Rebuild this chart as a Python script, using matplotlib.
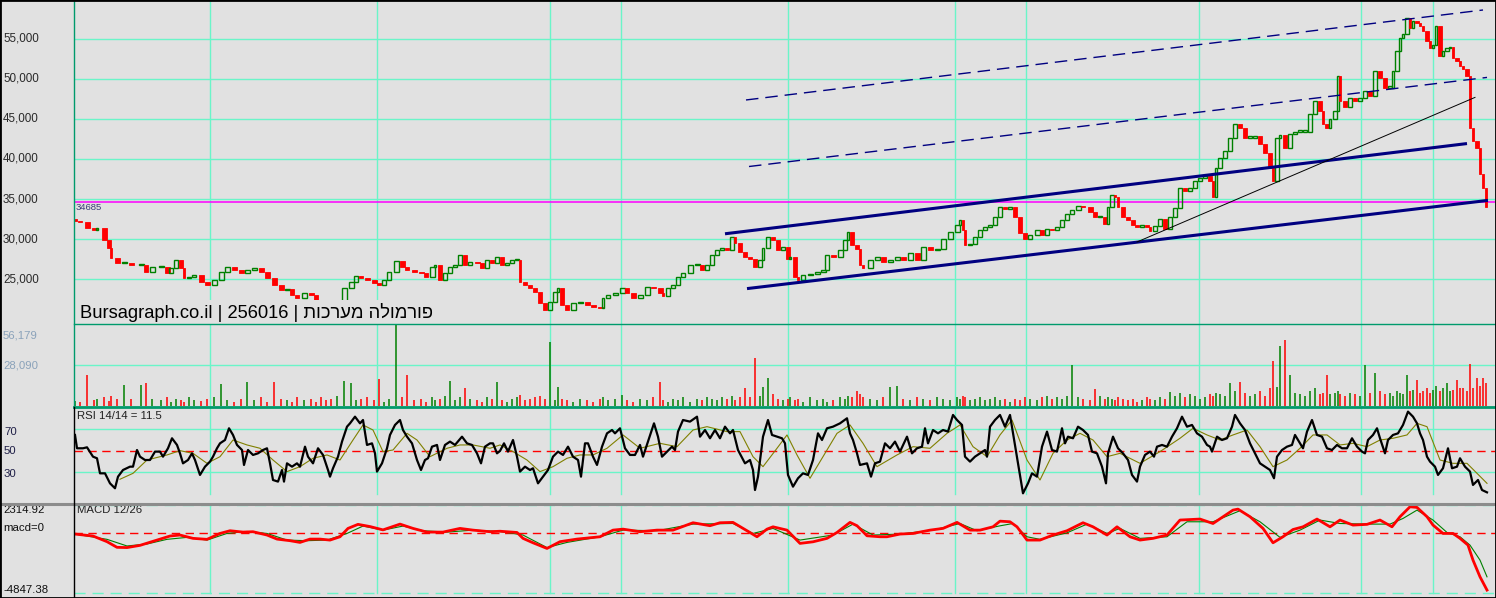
import numpy as np
import matplotlib
matplotlib.use("Agg")
import matplotlib.pyplot as plt
from matplotlib.patches import Rectangle
from matplotlib.lines import Line2D

# ---------------- data (sessions are numbered along the time axis) ----------------
session = [75, 80, 87, 94, 97, 104, 109, 111, 117, 124, 131, 141, 146, 152, 161, 167, 171, 176, 181, 184,
           189, 194, 201, 207, 214, 221, 227, 234, 241, 247, 254, 261, 267, 274, 281, 287, 292, 297, 304, 311,
           316, 321, 326, 331, 337, 344, 351, 356, 361, 367, 374, 379, 384, 389, 396, 402, 407, 414, 421, 426,
           432, 435, 440, 445, 450, 455, 460, 465, 470, 477, 482, 487, 492, 497, 502, 507, 512, 517, 520, 525,
           530, 535, 540, 545, 550, 555, 558, 562, 567, 573, 580, 587, 593, 600, 603, 608, 615, 622, 627, 633,
           640, 647, 653, 660, 663, 668, 673, 678, 683, 690, 697, 702, 707, 712, 717, 722, 727, 732, 735, 740,
           745, 750, 755, 760, 763, 768, 773, 778, 783, 788, 790, 795, 798, 803, 810, 817, 823, 827, 833, 840,
           845, 848, 852, 857, 860, 863, 870, 877, 883, 890, 897, 903, 910, 917, 923, 930, 937, 943, 950, 957,
           960, 963, 965, 970, 975, 980, 985, 990, 995, 1000, 1005, 1010, 1015, 1020, 1025, 1030, 1037, 1042, 1047, 1052,
           1057, 1062, 1067, 1072, 1078, 1083, 1090, 1095, 1100, 1105, 1108, 1112, 1115, 1118, 1123, 1128, 1133, 1137, 1142, 1147,
           1150, 1155, 1160, 1165, 1170, 1175, 1180, 1185, 1190, 1195, 1200, 1205, 1210, 1213, 1216, 1220, 1225, 1230, 1235, 1240,
           1245, 1250, 1255, 1260, 1265, 1270, 1273, 1277, 1280, 1285, 1290, 1295, 1300, 1305, 1310, 1315, 1320, 1323, 1327, 1330,
           1335, 1338, 1340, 1345, 1350, 1355, 1360, 1365, 1370, 1375, 1380, 1385, 1390, 1393, 1397, 1400, 1403, 1407, 1410, 1413,
           1417, 1420, 1423, 1427, 1430, 1433, 1436, 1440, 1443, 1447, 1450, 1453, 1457, 1460, 1463, 1467, 1470, 1473, 1477, 1480,
           1483, 1486]

close = [32300, 32100, 31350, 31100, 31350, 29870, 28900, 27640, 27000, 27000, 26770, 26770, 25940, 26560, 26560, 25770, 26400, 27400, 26400, 25150,
         25270, 25520, 24700, 24280, 24900, 25930, 26560, 26150, 25770, 26150, 26400, 25900, 25150, 24280, 23650, 23800, 23040, 22650, 23300, 23040,
         22420, 22100, 21600, 21500, 22300, 23900, 24700, 25440, 25150, 24900, 24530, 24280, 24900, 25900, 27260, 26560, 26150, 25900, 25770, 25270,
         26560, 26770, 24900, 25770, 26560, 26770, 28000, 26770, 27170, 27000, 26400, 27400, 27000, 27800, 26770, 27000, 27400, 27400, 24700, 24280,
         23900, 23450, 22050, 21180, 22200, 23450, 23900, 21800, 21180, 22050, 22200, 21800, 21600, 21400, 22650, 23040, 23300, 23900, 23300, 22650,
         23040, 24070, 23900, 23300, 22900, 23900, 24280, 25310, 25770, 26770, 26770, 26150, 26770, 28000, 28620, 28900, 28620, 30280, 29500, 28420,
         27800, 27600, 26560, 27400, 28900, 30280, 29870, 28620, 29050, 27600, 27800, 25310, 24900, 25500, 25730, 25900, 26140, 28000, 27800, 28620,
         29870, 30900, 29250, 28830, 26770, 26360, 27400, 27800, 27200, 27400, 27800, 27400, 28250, 27400, 29040, 28620, 28830, 30080, 30900, 31730,
         32350, 31100, 29250, 29450, 30280, 31100, 31500, 31730, 32770, 34000, 33800, 34000, 32770, 30730, 30080, 30500, 31100, 30500, 31300, 31100,
         31500, 32350, 33180, 33600, 34200, 34000, 33400, 32770, 32770, 31930, 34000, 35450, 35250, 34000, 32770, 32350, 31730, 31500, 31730, 31500,
         31000, 31600, 32470, 31230, 32720, 33830, 36440, 36070, 36440, 37300, 37680, 37900, 37300, 35200, 38920, 40160, 41030, 42640, 44380, 43890,
         42640, 42640, 42800, 41900, 40800, 38920, 37300, 42640, 43000, 41400, 43140, 43400, 43400, 43400, 45630, 47250, 46000, 44380, 43900, 45010,
         46000, 50350, 47250, 46500, 47640, 47250, 47640, 48500, 47860, 50980, 50100, 48890, 48890, 50980, 53470, 55080, 55580, 57560, 56330, 57190,
         57000, 56580, 55950, 54700, 53840, 54200, 56580, 52850, 53470, 53840, 54000, 52600, 52200, 51600, 51220, 50350, 43890, 42270, 41400, 38170,
         36440, 33970]

volume = [3500, 2500, 21200, 4000, 5000, 6000, 3500, 7000, 4500, 14400, 5000, 14400, 16000, 5000, 4000, 6000, 3000, 5000, 4000, 3000,
          6000, 4000, 3500, 5000, 6000, 15000, 4000, 3000, 5000, 16700, 4000, 6000, 3000, 16700, 5000, 4000, 3000, 6000, 4000, 5000,
          3000, 6000, 4000, 5000, 7000, 17100, 16000, 4000, 5000, 6000, 4000, 18500, 3000, 5000, 56000, 6000, 21200, 4000, 5000, 3000,
          6000, 4000, 5000, 7000, 17100, 4000, 6000, 12300, 5000, 4000, 3000, 6000, 5000, 16700, 4000, 3000, 5000, 6000, 7500, 4000,
          5000, 6000, 7000, 5000, 44000, 4000, 13200, 5000, 4000, 3000, 5000, 4000, 3000, 5000, 6000, 4000, 5000, 7500, 4000, 3000,
          5000, 4000, 6000, 16700, 4000, 3000, 5000, 4000, 6000, 3000, 5000, 4000, 6000, 5000, 4000, 6000, 5000, 7000, 4000, 6000,
          12300, 6000, 33100, 7000, 13200, 19200, 8000, 5000, 4000, 5000, 6000, 4000, 5000, 3000, 6000, 4000, 5000, 3000, 4000, 6000,
          5000, 7000, 6000, 10000, 8000, 6000, 5000, 4000, 6000, 13200, 13900, 5000, 4000, 6000, 5000, 4000, 6000, 5000, 4000, 6000,
          5000, 7000, 6000, 4000, 5000, 6000, 4000, 5000, 6000, 4000, 5000, 3000, 5000, 4000, 6000, 5000, 4000, 6000, 7000, 5000,
          6000, 5000, 7000, 28000, 6000, 5000, 4000, 11600, 7000, 5000, 6000, 5000, 4000, 6000, 5000, 4000, 5000, 3000, 4000, 6000,
          5000, 4000, 6000, 5000, 9600, 7000, 9000, 6000, 8000, 7000, 5000, 6000, 8000, 7000, 9000, 8000, 7000, 15800, 10000, 16700,
          9000, 7000, 8000, 10000, 7000, 12000, 31000, 13200, 41100, 45200, 21200, 9000, 8000, 7000, 10000, 12300, 8000, 9000, 21200, 8000,
          9000, 10000, 8000, 7000, 9000, 8000, 7000, 28000, 9000, 22800, 10000, 8000, 9000, 7000, 10000, 9000, 8000, 21200, 10000, 11000,
          17800, 9000, 10000, 12000, 9000, 11000, 13900, 10000, 12000, 15800, 10000, 11000, 17800, 12000, 12300, 10000, 28800, 12000, 19200, 14000,
          19200, 15800]

rsi_session = [75, 77, 83, 87, 93, 97, 100, 105, 110, 115, 118, 123, 130, 133, 137, 140, 145, 150, 155, 160,
               163, 168, 172, 177, 180, 183, 188, 192, 195, 200, 205, 210, 213, 217, 220, 225, 229, 233, 237, 242,
               244, 248, 253, 258, 263, 267, 270, 273, 278, 282, 284, 287, 292, 297, 300, 305, 308, 313, 318, 323,
               328, 330, 333, 338, 342, 347, 350, 355, 360, 363, 367, 372, 375, 377, 382, 387, 390, 395, 400, 403,
               407, 412, 417, 421, 425, 428, 432, 437, 440, 445, 450, 455, 462, 467, 472, 477, 481, 485, 490, 493,
               497, 500, 504, 508, 513, 517, 520, 525, 530, 533, 538, 543, 548, 553, 558, 563, 568, 573, 578, 581,
               585, 588, 593, 597, 602, 607, 612, 615, 620, 625, 630, 635, 640, 643, 648, 654, 658, 662, 667, 672,
               675, 678, 683, 690, 697, 700, 705, 710, 715, 720, 725, 730, 733, 738, 745, 750, 753, 755, 758, 763,
               768, 772, 777, 782, 785, 788, 793, 798, 803, 808, 813, 818, 822, 827, 833, 840, 847, 850, 853, 857,
               860, 867, 871, 875, 880, 885, 890, 895, 900, 907, 912, 917, 922, 925, 928, 933, 938, 943, 948, 953,
               957, 962, 965, 970, 975, 980, 985, 987, 990, 995, 1000, 1005, 1010, 1013, 1018, 1023, 1028, 1032, 1037, 1042,
               1047, 1052, 1057, 1062, 1065, 1068, 1073, 1078, 1083, 1088, 1092, 1097, 1102, 1106, 1108, 1113, 1118, 1123, 1128, 1132,
               1137, 1140, 1145, 1150, 1154, 1157, 1162, 1167, 1172, 1177, 1182, 1187, 1192, 1197, 1202, 1207, 1210, 1212, 1217, 1222,
               1227, 1232, 1235, 1240, 1245, 1250, 1255, 1260, 1265, 1270, 1274, 1277, 1282, 1287, 1292, 1295, 1300, 1303, 1307, 1312,
               1317, 1322, 1327, 1332, 1337, 1342, 1347, 1352, 1357, 1362, 1365, 1368, 1373, 1377, 1380, 1385, 1388, 1393, 1398, 1403,
               1408, 1413, 1417, 1420, 1423, 1427, 1430, 1435, 1438, 1443, 1448, 1452, 1457, 1460, 1465, 1470, 1473, 1478, 1482, 1487]

rsi = [64.9, 52.5, 52.5, 53.4, 44.7, 43.2, 29.2, 29.2, 19.9, 15.3, 26.1, 32.3, 35.4, 35.4, 50.9, 44.7, 41.6, 41.6, 49.4, 49.4,
       44.7, 52.5, 61.8, 55.6, 47.8, 38.5, 41.6, 47.8, 41.6, 27.7, 35.4, 40.1, 44.7, 52.5, 57.1, 60.2, 71.1, 64.9, 55.6, 50.9,
       37.0, 50.9, 46.3, 47.8, 50.9, 52.5, 38.5, 23.0, 21.5, 32.3, 21.5, 38.5, 35.4, 38.5, 35.4, 54.0, 44.7, 38.5, 52.5, 46.3,
       32.3, 26.1, 33.9, 44.7, 58.7, 72.6, 75.7, 81.9, 75.7, 78.8, 55.6, 57.1, 47.8, 30.8, 38.5, 52.5, 64.9, 74.2, 78.8, 69.5,
       63.3, 57.1, 41.6, 32.3, 41.6, 43.2, 54.0, 55.6, 41.6, 55.6, 58.7, 55.6, 63.3, 57.1, 55.6, 47.8, 38.5, 54.0, 57.1, 57.1,
       47.8, 50.0, 57.1, 49.4, 60.2, 44.7, 30.8, 35.4, 32.3, 33.9, 19.9, 26.1, 32.3, 44.7, 49.4, 46.3, 54.0, 44.7, 41.6, 26.1,
       57.1, 57.1, 44.7, 37.0, 54.0, 66.4, 69.5, 66.4, 71.1, 52.5, 46.3, 46.3, 55.6, 44.7, 58.7, 75.7, 63.3, 44.7, 49.4, 54.0,
       50.9, 68.0, 78.8, 77.3, 81.9, 63.3, 69.5, 61.8, 69.5, 61.8, 72.6, 66.4, 69.5, 50.9, 38.5, 41.6, 32.3, 13.7, 26.1, 63.3,
       78.8, 64.9, 63.3, 61.8, 57.1, 27.7, 16.8, 24.6, 29.2, 27.7, 41.6, 66.4, 60.2, 71.1, 72.6, 75.7, 80.4, 66.4, 60.2, 47.8,
       37.0, 38.5, 26.1, 38.5, 40.1, 57.1, 52.5, 58.7, 49.4, 63.3, 47.8, 52.5, 54.0, 71.1, 57.1, 69.5, 66.4, 69.5, 68.0, 83.5,
       78.8, 74.2, 44.7, 40.1, 44.7, 47.8, 50.9, 44.7, 72.6, 78.8, 83.5, 72.6, 83.5, 66.4, 38.5, 10.6, 19.9, 29.2, 26.1, 54.0,
       68.0, 50.9, 49.4, 71.1, 57.1, 63.3, 61.8, 72.6, 69.5, 64.9, 49.4, 47.8, 35.4, 19.9, 47.8, 63.3, 52.5, 47.8, 41.6, 27.7,
       21.5, 35.4, 46.3, 49.4, 44.7, 54.0, 55.6, 54.0, 63.3, 71.1, 81.9, 72.6, 74.2, 66.4, 63.3, 55.6, 54.0, 49.4, 63.3, 60.2,
       61.8, 72.6, 83.5, 75.7, 69.5, 57.1, 47.8, 38.5, 35.4, 32.3, 24.6, 44.7, 50.9, 54.0, 55.6, 64.9, 57.1, 52.5, 68.0, 78.8,
       64.9, 63.3, 52.5, 50.9, 55.6, 52.5, 52.5, 61.8, 54.0, 49.4, 47.8, 60.2, 64.9, 71.1, 61.8, 47.8, 60.2, 64.9, 66.4, 74.2,
       86.6, 81.9, 75.7, 66.4, 60.2, 44.7, 40.1, 35.4, 27.7, 33.9, 52.5, 33.9, 35.4, 43.2, 35.4, 30.8, 18.4, 23.0, 13.7, 11.5]

rsi_ma_session = [120, 133, 147, 167, 180, 193, 207, 220, 233, 247, 260, 273, 287, 300, 313, 327, 340, 353, 363, 373,
                  383, 393, 407, 417, 430, 447, 460, 473, 490, 500, 513, 527, 540, 553, 567, 580, 593, 607, 623, 640,
                  660, 677, 693, 707, 727, 740, 753, 763, 777, 787, 797, 810, 823, 837, 850, 863, 877, 897, 913, 930,
                  947, 960, 973, 987, 1000, 1012, 1027, 1040, 1053, 1067, 1080, 1093, 1107, 1120, 1140, 1160, 1180, 1193, 1207, 1220,
                  1233, 1247, 1260, 1273, 1287, 1300, 1313, 1327, 1340, 1353, 1367, 1380, 1393, 1407, 1417, 1427, 1440, 1453, 1467, 1477,
                  1487]
rsi_ma = [23.7, 29.2, 41.6, 46.3, 50.3, 47.8, 38.5, 44.7, 60.2, 55.6, 52.5, 41.6, 30.8, 35.4, 43.2, 46.3, 41.6, 60.2, 74.2, 69.5,
          49.4, 50.9, 66.4, 60.2, 44.7, 52.5, 55.6, 55.6, 52.5, 55.6, 49.4, 41.6, 30.8, 35.4, 43.2, 46.3, 46.3, 52.5, 64.9, 52.5,
          57.1, 54.0, 69.5, 72.6, 68.0, 68.0, 44.7, 35.4, 52.5, 64.9, 46.3, 24.6, 44.7, 66.4, 74.2, 57.1, 35.4, 46.3, 54.0, 52.5,
          66.4, 74.2, 54.0, 44.7, 64.9, 78.8, 41.6, 23.0, 47.8, 60.2, 66.4, 60.2, 44.7, 47.8, 38.5, 49.4, 61.8, 71.1, 64.9, 60.2,
          64.9, 69.5, 54.0, 35.4, 41.6, 52.5, 64.9, 64.9, 55.6, 57.1, 54.0, 60.2, 61.8, 64.9, 75.7, 72.6, 41.6, 38.5, 38.5, 29.2,
          19.9]

macd_session = [75, 93, 107, 117, 127, 140, 157, 170, 180, 193, 207, 220, 230, 243, 253, 267, 277, 290, 300, 310,
                320, 330, 340, 348, 358, 370, 383, 400, 413, 427, 443, 460, 473, 490, 500, 517, 523, 533, 547, 560,
                577, 600, 613, 623, 640, 657, 673, 693, 710, 720, 733, 747, 757, 767, 773, 787, 800, 813, 827, 837,
                850, 857, 867, 880, 887, 900, 913, 930, 943, 957, 970, 980, 993, 1000, 1010, 1017, 1027, 1040, 1053, 1067,
                1083, 1093, 1107, 1117, 1130, 1140, 1153, 1167, 1180, 1200, 1213, 1233, 1238, 1250, 1263, 1273, 1283, 1293, 1303, 1317,
                1330, 1340, 1353, 1367, 1380, 1392, 1400, 1410, 1417, 1427, 1433, 1443, 1453, 1460, 1468, 1473, 1480, 1487]
macd = [-50, -210, -670, -1130, -1150, -970, -540, -210, -130, -400, -480, 0, 220, 110, 140, -130, -460, -590, -730, -460,
        -460, -540, -270, 410, 740, 560, 290, 760, 410, 110, 110, 410, 270, 140, 180, 80, -400, -760, -1220, -670,
        -460, -270, 270, 350, 140, 270, 270, 870, 630, 870, 900, 220, -270, 350, 540, 270, -810, -680, -400, 80,
        900, 630, -190, -270, -270, -50, 0, 270, 410, 900, 270, 270, 540, 1000, 950, 540, -540, -540, -130, 220,
        870, 540, -130, 540, -270, -540, -400, -130, 1090, 1170, 810, 1900, 1980, 1360, 410, -760, -270, 320, 540, 1170,
        540, 1090, 680, 740, 1090, 540, 1360, 2170, 2120, 1360, 680, 0, 0, -400, -950, -2170, -3530, -4610]

signal_session = [75, 107, 127, 147, 167, 187, 207, 227, 247, 267, 287, 307, 327, 347, 363, 383, 403, 423, 447, 473,
                  500, 523, 547, 567, 600, 623, 657, 693, 733, 753, 773, 800, 833, 853, 873, 900, 933, 960, 977, 1000,
                  1013, 1027, 1040, 1067, 1087, 1107, 1120, 1140, 1167, 1187, 1213, 1240, 1260, 1280, 1300, 1320, 1340, 1367, 1390, 1403,
                  1417, 1433, 1447, 1460, 1470, 1480, 1487]
signal = [-50, -480, -1020, -860, -480, -320, -540, 0, 160, 0, -540, -590, -540, 0, 600, 270, 600, 220, 110, 270,
          160, -130, -1150, -730, -270, 270, 220, 760, 810, 0, 410, -540, -130, 760, -130, -50, 270, 810, 220, 620,
          810, -270, -480, 50, 760, 0, 410, -400, -270, 950, 950, 1850, 950, -320, 270, 1090, 810, 760, 760, 1220,
          1900, 1090, 80, -270, -950, -2170, -3530]

grid_sessions = [210, 377, 550, 621, 788, 955, 1026, 1199, 1361, 1433]
price_levels = [25000, 30000, 35000, 40000, 45000, 50000, 55000]
last_mark = 34685

# trend lines: (session, price) pairs
upper_channel = ([725, 1467], [30680, 41920])
lower_channel = ([747, 1488], [23850, 34840])
dashed_top = ([746, 1483], [47350, 58560])
dashed_mid = ([749, 1487], [39060, 50160])
support_line = ([1137, 1475], [29660, 47670])

vol_max = 56179
macd_top, macd_bottom = 2314.92, -4847.38

# ---------------- figure ----------------
W, H = 1496, 598
BG = '#e1e1e1'
GRID = '#6af5c8'
DKGREEN = '#009a6c'
FONT = ['Liberation Sans', 'DejaVu Sans']
plt.rcParams['font.family'] = FONT

fig = plt.figure(figsize=(W / 100, H / 100), dpi=100)
fig.patch.set_facecolor(BG)


def rect(x0, y0, x1, y1):
    return [x0 / W, 1 - y1 / H, (x1 - x0) / W, (y1 - y0) / H]


def ftext(x, y, s, **kw):
    fig.text(x / W, 1 - y / H, s, va='center', ha='left', **kw)


def hline_px(y, x0, x1, color, lw):
    fig.add_artist(Line2D([x0 / W, x1 / W], [1 - y / H, 1 - y / H], color=color, lw=lw,
                          transform=fig.transFigure, zorder=20))


def vline_px(x, y0, y1, color, lw):
    fig.add_artist(Line2D([x / W, x / W], [1 - y0 / H, 1 - y1 / H], color=color, lw=lw,
                          transform=fig.transFigure, zorder=20))


ax_p = fig.add_axes(rect(74, 1, 1495, 324))
ax_v = fig.add_axes(rect(74, 324, 1495, 407))
ax_r = fig.add_axes(rect(74, 407, 1495, 503))
ax_m = fig.add_axes(rect(74, 503, 1495, 597))

vgrid_span = {ax_p: (0, 1), ax_v: (0, 1), ax_r: (0.09, 1), ax_m: (0.04, 0.98)}
for ax in (ax_p, ax_v, ax_r, ax_m):
    ax.set_facecolor(BG)
    ax.set_xlim(74, 1495)
    ax.set_xticks([])
    ax.set_yticks([])
    for s in ax.spines.values():
        s.set_visible(False)
    y0, y1 = vgrid_span[ax]
    for g in grid_sessions:
        ax.axvline(g, ymin=y0, ymax=y1, color=GRID, lw=1.0, zorder=0)

# ---------------- price panel ----------------
P_LO, P_HI = 19440, 59680
ax_p.set_ylim(P_LO, P_HI)
for lv in price_levels:
    ax_p.axhline(lv, color=GRID, lw=1.0, zorder=0)
    ypix = 1 + (P_HI - lv) / (P_HI - P_LO) * 323
    ftext(3, ypix, f"{lv:,}", fontsize=8.4, color='#2a2a2a')

ax_p.axhline(last_mark, color='#ff00ff', lw=1.1, zorder=3)

s_arr = np.array(session, dtype=float)
c_arr = np.array(close, dtype=float)
for i in range(len(s_arr)):
    o = c_arr[i - 1] if i > 0 else c_arr[i] + 150
    c = c_arr[i]
    gap = (s_arr[i] - s_arr[i - 1]) if i > 0 else (s_arr[1] - s_arr[0])
    w = min(max(0.85 * gap, 2.6), 5.0)
    lo, hi = min(o, c), max(o, c)
    hgt = max(hi - lo, 160)
    if c < o:
        ax_p.add_patch(Rectangle((s_arr[i] - w / 2, lo), w, hgt, facecolor='#ff0000',
                                 edgecolor='#ff0000', lw=0.6, zorder=4))
    else:
        ax_p.add_patch(Rectangle((s_arr[i] - w / 2, lo), w, hgt, facecolor='none',
                                 edgecolor='#008000', lw=1.0, zorder=4))

navy = '#000080'
ax_p.plot(*upper_channel, color=navy, lw=2.2, zorder=5, solid_capstyle='butt')
ax_p.plot(*lower_channel, color=navy, lw=2.2, zorder=5, solid_capstyle='butt')
ax_p.plot(*dashed_top, color=navy, lw=1.0, ls=(0, (9, 5)), zorder=5)
ax_p.plot(*dashed_mid, color=navy, lw=1.0, ls=(0, (9, 5)), zorder=5)
ax_p.plot(*support_line, color='black', lw=0.7, zorder=5)

# label box covering the bottom of the price panel
fig.add_artist(Rectangle((74.5 / W, 1 - 323.5 / H), (436 - 74.5) / W, 23.5 / H, transform=fig.transFigure,
                         facecolor=BG, edgecolor='none', zorder=15))
he = "פורמולה מערכות"
fig.text(80 / W, 1 - 313 / H, "Bursagraph.co.il | 256016 | " + he[::-1], va='center', ha='left',
         fontsize=13.2, color='black', zorder=16)
fig.text(76 / W, 1 - 207 / H, str(last_mark), va='center', ha='left', fontsize=6.8, color='#3c3c78', zorder=16)

# ---------------- volume panel ----------------
vol_col = ['#008000' if (i == 0 or close[i] >= close[i - 1]) else '#ff0000' for i in range(len(session))]
n = min(len(session), len(volume))
ax_v.set_ylim(-700, vol_max)
ax_v.axhline(vol_max / 2, color=GRID, lw=1.0, zorder=0)
ax_v.vlines(session[:n], 0, volume[:n], colors=vol_col[:n], lw=1.1, zorder=3)
ftext(3, 335, "56,179", fontsize=8.2, color='#8aa2ba')
ftext(3, 365, "28,090", fontsize=8.2, color='#8aa2ba')

# ---------------- RSI panel ----------------
ax_r.set_ylim(1.6, 90.9)
for lv in (30, 70):
    ax_r.axhline(lv, color=GRID, lw=1.0, zorder=0)
ax_r.axhline(50, color='#ff0000', lw=1.0, ls=(0, (6, 4)), zorder=1)
ax_r.plot(rsi_ma_session, rsi_ma, color='#808000', lw=0.8, zorder=3)
ax_r.plot(rsi_session, rsi, color='black', lw=1.6, zorder=4)
ftext(77, 416, "RSI 14/14 = 11.5", fontsize=8.2, color='#202020')
for lv, yy in ((70, 432), (50, 451), (30, 474)):
    ftext(4, yy, str(lv), fontsize=8.2, color='#1e1e46')

# ---------------- MACD panel ----------------
ax_m.set_ylim(-5173, 2478)
ax_m.axhline(macd_top, color=GRID, lw=1.0, ls=(0, (8, 5)), zorder=0)
ax_m.axhline(macd_bottom, color=GRID, lw=1.0, ls=(0, (8, 5)), zorder=0)
ax_m.axhline(0, color='#ff0000', lw=1.0, ls=(0, (6, 4)), zorder=1)
ax_m.plot(signal_session, signal, color='#008000', lw=0.8, zorder=3)
ax_m.plot(macd_session, macd, color='#ff0000', lw=2.0, zorder=4)
ftext(77, 510, "MACD 12/26", fontsize=8.2, color='#202020')
ftext(3, 510, "2314.92", fontsize=8.2, color='#101010')
ftext(3, 528, "macd=0", fontsize=8.2, color='#101010')
ftext(3, 590, "-4847.38", fontsize=8.2, color='#101010')

# ---------------- panel separators and frame ----------------
hline_px(324, 74, 1496, DKGREEN, 1.0)
hline_px(407, 74, 1496, DKGREEN, 2.0)
hline_px(503.5, 0, 1496, '#8c8c8c', 2.2)
vline_px(74, 0, 407, DKGREEN, 1.0)
vline_px(74, 407, 598, 'black', 1.0)
fig.add_artist(Rectangle((0, 0), 1, 1, transform=fig.transFigure, facecolor='none',
                         edgecolor='black', lw=2.0, zorder=30))

fig.savefig("out.png", dpi=100, facecolor=BG)
